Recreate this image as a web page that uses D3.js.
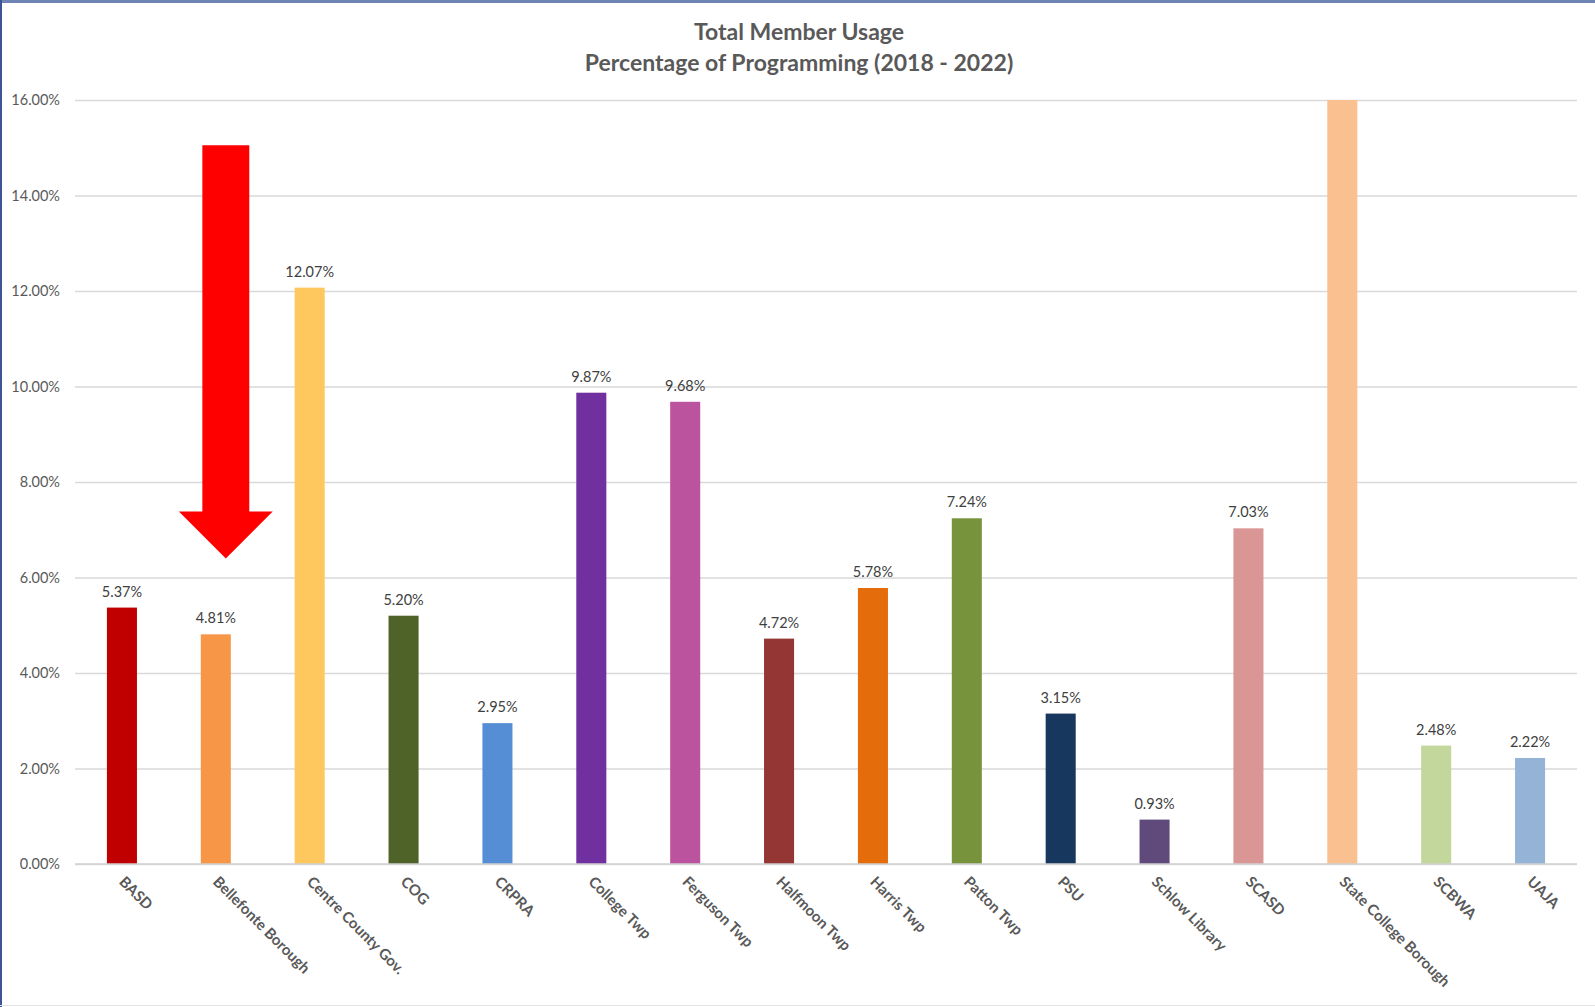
<!DOCTYPE html>
<html>
<head>
<meta charset="utf-8">
<script src="https://cdn.jsdelivr.net/npm/d3@7"></script>
<style>
  html, body { margin: 0; padding: 0; background: #fff; }
  svg { display: block; }
  text { font-family: Lato, "Open Sans", "DejaVu Sans", sans-serif; }
</style>
</head>
<body>
<svg id="chart" width="1595" height="1007"></svg>
<script>
const categories = ["BASD", "Bellefonte Borough", "Centre County Gov.", "COG", "CRPRA",
  "College Twp", "Ferguson Twp", "Halfmoon Twp", "Harris Twp", "Patton Twp", "PSU",
  "Schlow Library", "SCASD", "State College Borough", "SCBWA", "UAJA"];
const values = [5.37, 4.81, 12.07, 5.20, 2.95, 9.87, 9.68, 4.72, 5.78, 7.24, 3.15,
  0.93, 7.03, 16.50, 2.48, 2.22];
const colors = ["#C00000", "#F79646", "#FFC85E", "#4F6228", "#558ED5", "#7030A0",
  "#BC539E", "#943634", "#E46C0A", "#77933C", "#17375E", "#604A7B", "#D99694",
  "#FAC090", "#C3D69B", "#95B3D7"];
const yTicks = [0, 2, 4, 6, 8, 10, 12, 14, 16];
const titleLines = ["Total Member Usage", "Percentage of Programming (2018 - 2022)"];
// annotation arrow pointing at Bellefonte Borough (value units)
const arrowCategory = "Bellefonte Borough";
const arrowFrom = 15.05, arrowTo = 6.40;

const W = 1595, H = 1007;
const svg = d3.select("#chart");
const m = { left: 75, right: 1577, top: 100, bottom: 864 };

// frame
svg.append("rect").attr("x", 0).attr("y", 0).attr("width", W).attr("height", 3).attr("fill", "#7083b5");
svg.append("rect").attr("x", 0).attr("y", 0).attr("width", 2).attr("height", H).attr("fill", "#3d5596");
svg.append("rect").attr("x", 0).attr("y", H - 2).attr("width", W).attr("height", 1).attr("fill", "#e3e3e3");

const x = d3.scaleBand().domain(categories).range([m.left, m.right])
  .paddingInner(0.68).paddingOuter(0.34);
const y = d3.scaleLinear().domain([0, 16]).range([m.bottom, m.top]).clamp(true);

// gridlines
const grid = svg.append("g")
  .attr("transform", `translate(${m.left},0)`)
  .call(d3.axisLeft(y).tickValues(yTicks).tickSize(-(m.right - m.left)).tickFormat(""));
grid.select(".domain").remove();
grid.selectAll("line").attr("stroke", "#d9d9d9").attr("stroke-width", 1.5);

// y tick labels
const yAxis = svg.append("g")
  .attr("transform", `translate(${m.left},0)`)
  .call(d3.axisLeft(y).tickValues(yTicks).tickSize(0).tickPadding(15)
    .tickFormat(d => d.toFixed(2) + "%"));
yAxis.select(".domain").remove();
yAxis.selectAll("text").attr("fill", "#595959").style("font-size", "14.5px")
  .style("font-family", "Lato, 'Open Sans', sans-serif");

// bars
svg.append("g").selectAll("rect").data(categories).join("rect")
  .attr("x", d => x(d))
  .attr("width", x.bandwidth())
  .attr("y", (d, i) => y(values[i]))
  .attr("height", (d, i) => y(0) - y(values[i]))
  .attr("fill", (d, i) => colors[i]);

// baseline
svg.append("line").attr("x1", m.left).attr("x2", m.right)
  .attr("y1", y(0)).attr("y2", y(0)).attr("stroke", "#d0d0d0").attr("stroke-width", 1.5);

// data labels
svg.append("g").selectAll("text").data(categories.filter((d, i) => values[i] <= 16)).join("text")
  .attr("x", d => x(d) + x.bandwidth() / 2)
  .attr("y", d => y(values[categories.indexOf(d)]) - 11)
  .attr("text-anchor", "middle")
  .attr("fill", "#404040")
  .style("font-size", "14.5px")
  .text(d => values[categories.indexOf(d)].toFixed(2) + "%");

// category labels
const xAxis = svg.append("g")
  .attr("transform", `translate(0,${m.bottom})`)
  .call(d3.axisBottom(x).tickSize(0).tickFormat(d => d));
xAxis.select(".domain").remove();
xAxis.selectAll("text")
  .attr("text-anchor", "start")
  .attr("transform", "translate(0,15) rotate(45)")
  .attr("x", 0).attr("y", 0).attr("dy", "0.35em")
  .attr("fill", "#595959")
  .style("font-size", "15px").style("font-weight", "700")
  .style("font-family", "Lato, 'Open Sans', sans-serif");

// title
svg.append("g").selectAll("text").data(titleLines).join("text")
  .attr("x", 799).attr("y", (d, i) => 40 + i * 31)
  .attr("text-anchor", "middle")
  .attr("fill", "#595959")
  .style("font-size", "23px").style("font-weight", "700")
  .text(d => d);

// arrow annotation
const cx = x(arrowCategory) + x.bandwidth() / 2 + 10;
const step = x.step();
const shaftHalf = step * 0.25, headHalf = step * 0.5;
const tipY = y(arrowTo), topY = y(arrowFrom), headY = tipY - step * 0.5;
svg.append("path")
  .attr("d", d3.line()([
    [cx - shaftHalf, topY], [cx + shaftHalf, topY], [cx + shaftHalf, headY],
    [cx + headHalf, headY], [cx, tipY], [cx - headHalf, headY],
    [cx - shaftHalf, headY]
  ]) + "Z")
  .attr("fill", "#FF0000");
</script>
</body>
</html>
